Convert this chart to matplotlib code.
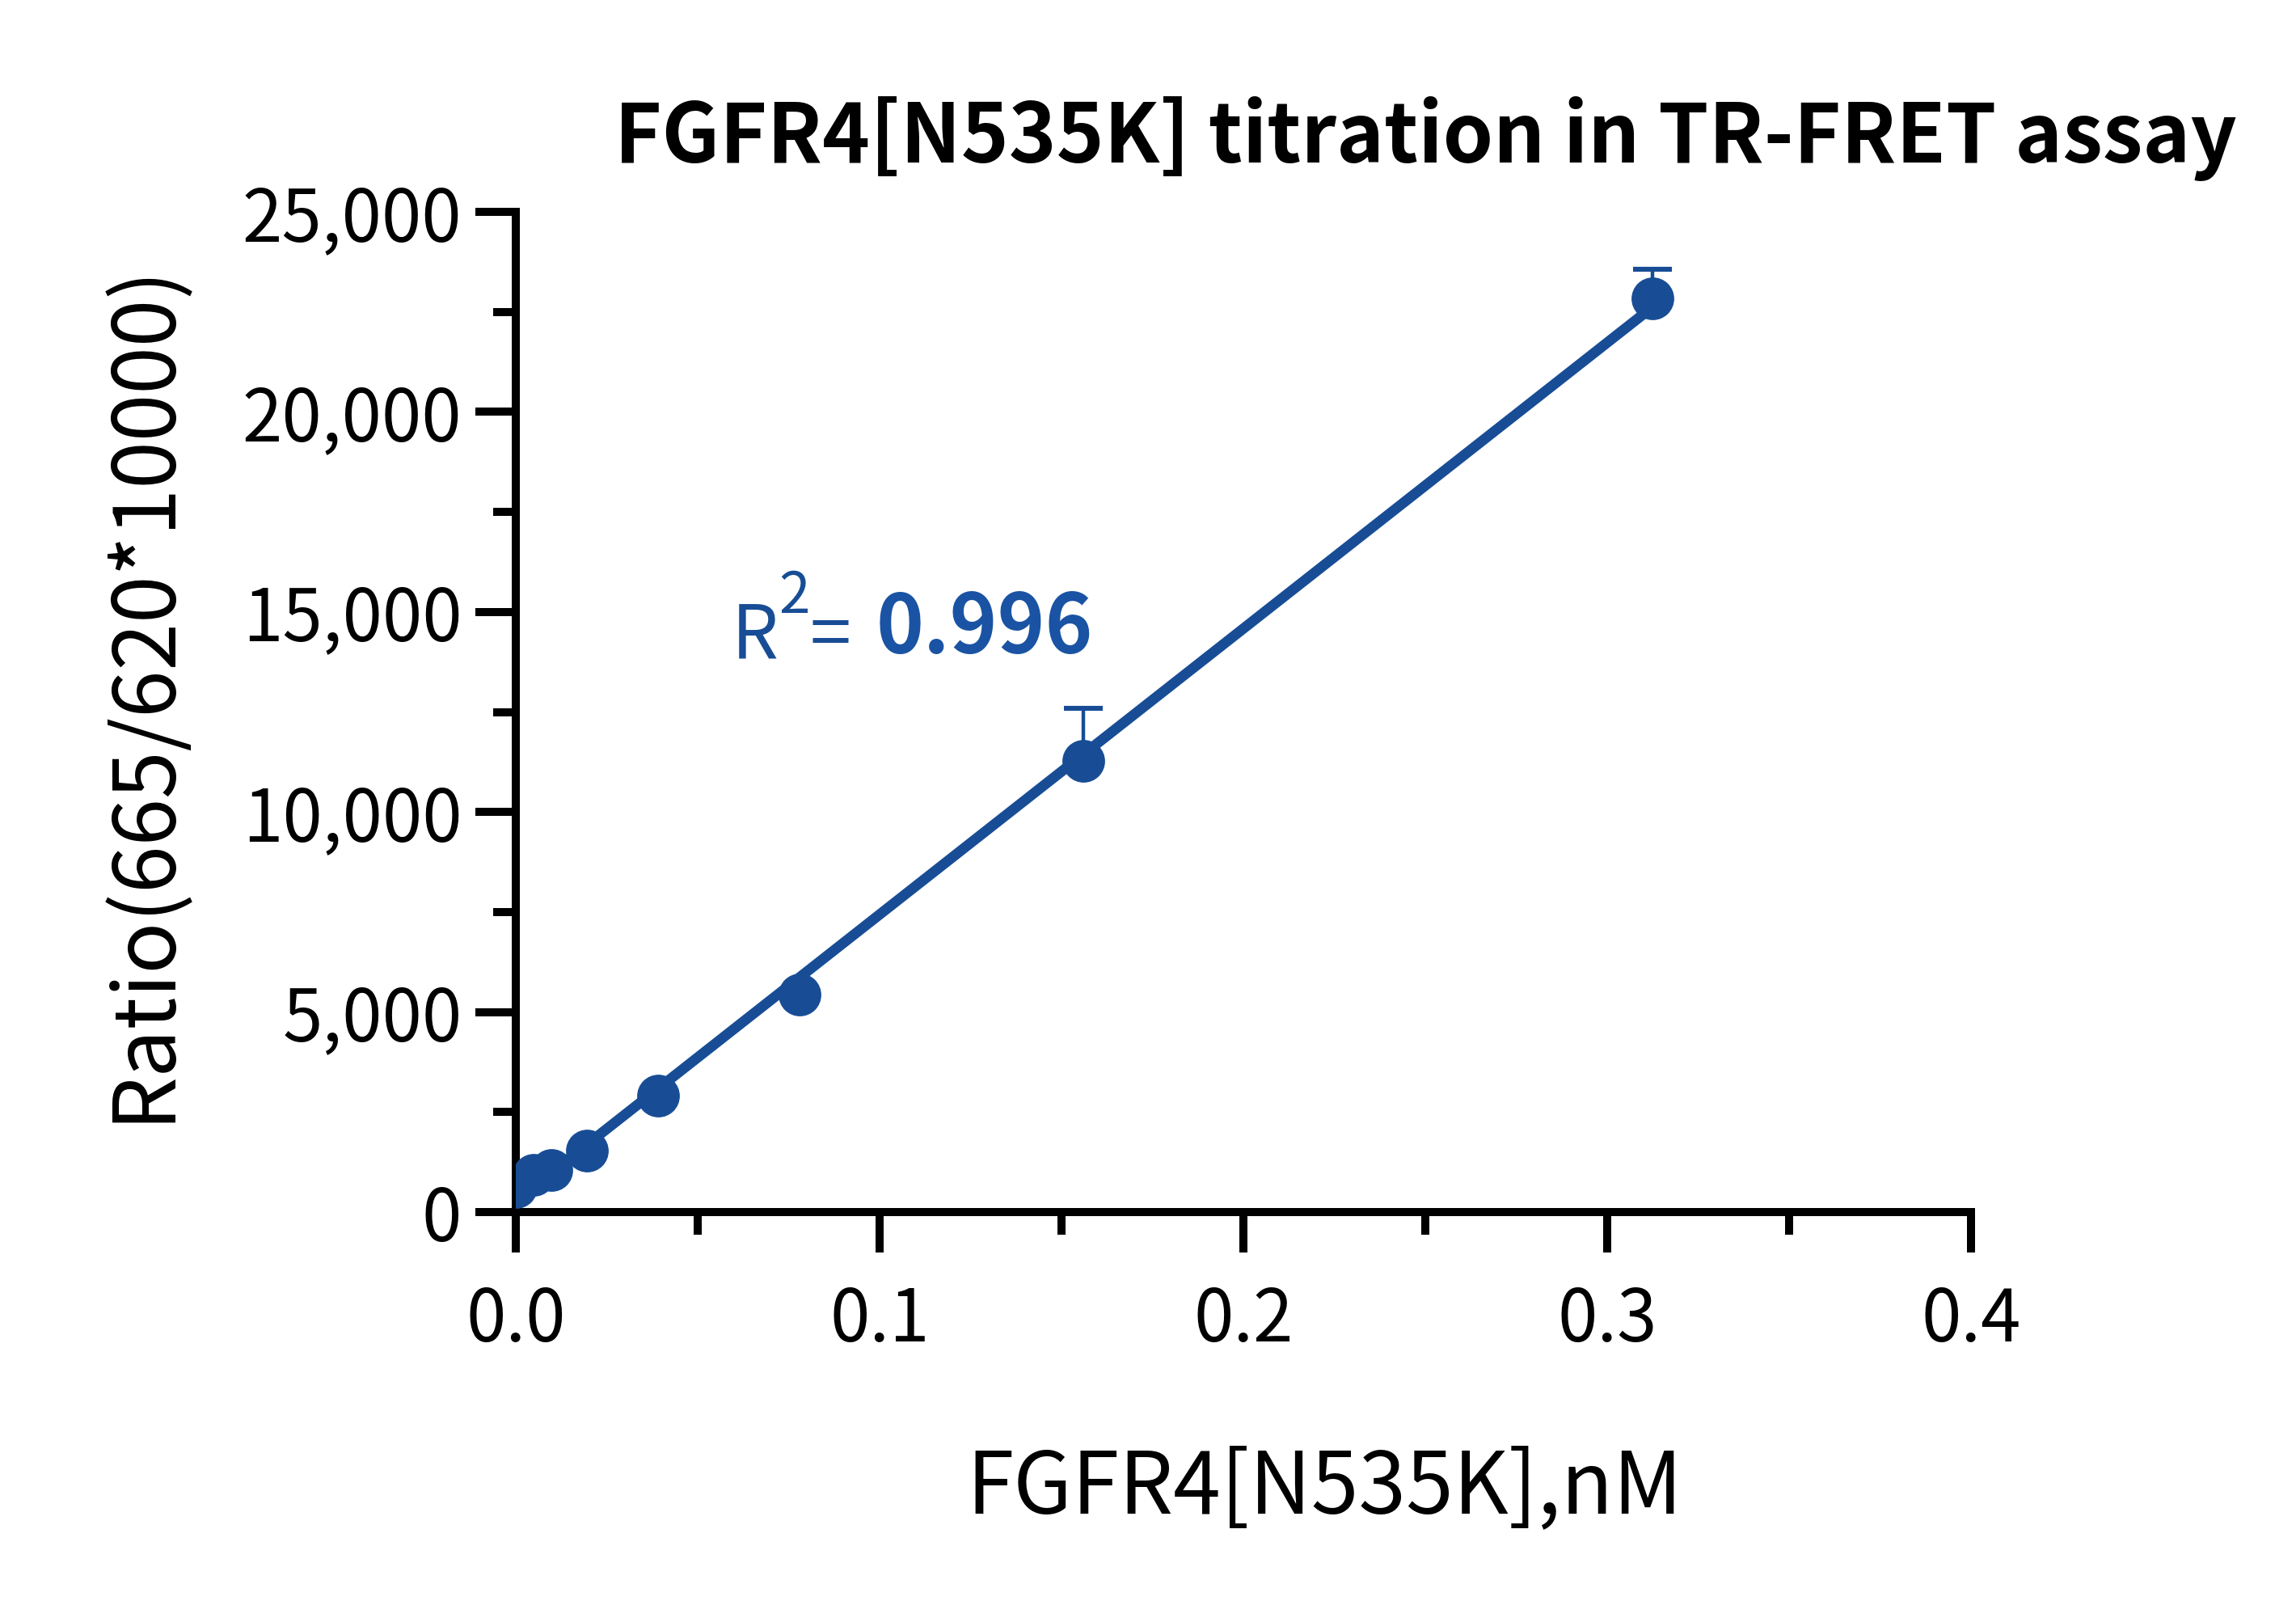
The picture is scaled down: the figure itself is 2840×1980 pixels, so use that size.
import numpy as np
import matplotlib
matplotlib.use("Agg")
import matplotlib.pyplot as plt
from matplotlib.ticker import MultipleLocator, FuncFormatter

plt.rcParams['font.family'] = ['Noto Sans CJK SC', 'DejaVu Sans']

# data
conc = np.array([0.0, 0.00488, 0.00977, 0.0195, 0.039, 0.078, 0.156, 0.3125])
ratio = np.array([634, 925, 1059, 1532, 2910, 5437, 11277, 22837])
err_up = np.array([0, 0, 0, 0, 0, 0, 1313, 728])

title = "FGFR4[N535K] titration in TR-FRET assay"
xlab = "FGFR4[N535K],nM"
ylab = "Ratio(665/620*10000)"

blue = '#184D96'

fig = plt.figure(figsize=(14.2, 9.9), dpi=200)
ax = fig.add_axes([638/2840, 1 - 1499/1980, 1800/2840, 1237/1980])

# linear fit
k, b = np.polyfit(conc, ratio, 1)
xs = np.array([conc.min(), conc.max()])
ax.plot(xs, k * xs + b, color=blue, lw=4.6, zorder=2, solid_capstyle='butt')

ax.errorbar(conc, ratio, yerr=[np.zeros_like(err_up), err_up], fmt='none',
            ecolor=blue, elinewidth=1.6, capsize=8.5, capthick=2.2, zorder=3)
ax.plot(conc, ratio, 'o', color=blue, ms=19, mec='none', zorder=4)

ax.set_xlim(0, 0.4)
ax.set_ylim(0, 25000)
ax.xaxis.set_major_locator(MultipleLocator(0.1))
ax.xaxis.set_minor_locator(MultipleLocator(0.05))
ax.yaxis.set_major_locator(MultipleLocator(5000))
ax.yaxis.set_minor_locator(MultipleLocator(2500))
ax.xaxis.set_major_formatter(FuncFormatter(lambda v, p: f"{v:.1f}"))
ax.yaxis.set_major_formatter(FuncFormatter(lambda v, p: f"{int(v):,}"))

for s in ['top', 'right']:
    ax.spines[s].set_visible(False)
for s in ['left', 'bottom']:
    ax.spines[s].set_linewidth(3.6)
    ax.spines[s].set_capstyle('projecting')

ax.tick_params(which='major', length=18, width=3.6, labelsize=32)
ax.tick_params(axis='x', which='major', pad=14)
ax.tick_params(axis='y', which='major', pad=6)
ax.tick_params(which='minor', length=10, width=3.6)

fig.text(1763/2840, 1 - 201/1980, title, ha='center', va='baseline',
         fontsize=36, fontweight='semibold')
fig.text(1638/2840, 1 - 1871/1980, xlab, ha='center', va='baseline', fontsize=38)
fig.text(177/2840, 1 - 856/1980, ylab, ha='center', va='center',
         rotation=90, fontsize=38)

# R^2 annotation
ax.text(0.0593, 13824, "R", color=blue, fontsize=33, va='baseline')
ax.text(0.0722, 14976, "2", color=blue, fontsize=25, va='baseline')
ax.text(0.0808, 13824, "=", color=blue, fontsize=33, va='baseline')
ax.text(0.0990, 13965, "0.996", color='#1A53A3', fontsize=36,
        fontweight='semibold', va='baseline')

fig.savefig("out.png", dpi=200)
